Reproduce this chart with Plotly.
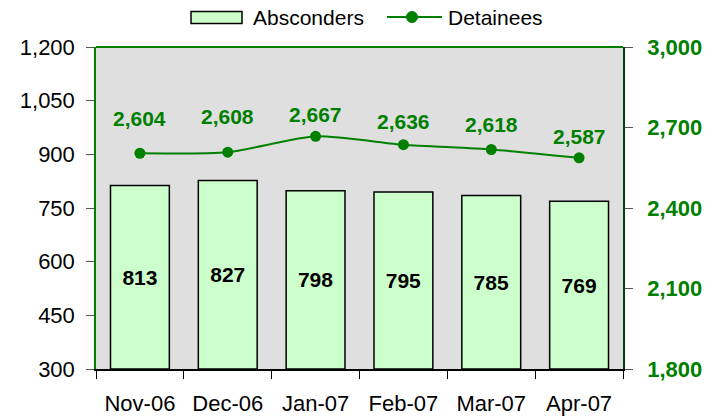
import plotly.graph_objects as go

months = ["Nov-06", "Dec-06", "Jan-07", "Feb-07", "Mar-07", "Apr-07"]
absconders = [813, 827, 798, 795, 785, 769]
detainees = [2604, 2608, 2667, 2636, 2618, 2587]
left_ticks = [300, 450, 600, 750, 900, 1050, 1200]
right_ticks = [1800, 2100, 2400, 2700, 3000]

# style: vertical offsets (px) of the detainee value labels above their markers
label_shift = [35, 36, 22, 23, 25, 21]

GREEN = "#008000"
BAR_FILL = "#ccffcc"
FONT = "Liberation Sans, Arial, sans-serif"
BASE = 300

W, H = 719, 420
ML, MR, MT, MB = 96, 96, 47, 51
PW, PH = W - ML - MR, H - MT - MB


def px(x):  # page pixel x -> paper x
    return (x - ML) / PW


def py(y):  # page pixel y -> paper y
    return (H - MB - y) / PH


fig = go.Figure()
fig.add_trace(go.Bar(
    x=months, y=[v - BASE for v in absconders], base=BASE,
    name="Absconders",
    marker=dict(color=BAR_FILL, line=dict(color="black", width=1.5)),
    width=0.67,
    text=[f"{v:,}" for v in absconders], textposition="inside",
    insidetextanchor="middle",
    textfont=dict(family=FONT, size=21, color="black", weight="bold"),
    hovertext=[str(v) for v in absconders], hoverinfo="text",
))
fig.add_trace(go.Scatter(
    x=months, y=detainees, name="Detainees", yaxis="y2",
    mode="lines+markers",
    line=dict(color=GREEN, width=2, shape="spline", smoothing=0.6),
    marker=dict(color=GREEN, size=11),
))
for m, v, s in zip(months, detainees, label_shift):
    fig.add_annotation(x=m, y=v, yref="y2", text=f"<b>{v:,}</b>",
                       showarrow=False, yshift=s,
                       font=dict(family=FONT, size=21, color=GREEN))

# custom legend (drawn to match the reference's wide swatch)
ly = 17.5
fig.add_shape(type="rect", xref="paper", yref="paper",
              x0=px(191), x1=px(242), y0=py(23.5), y1=py(11.5),
              fillcolor=BAR_FILL, line=dict(color="black", width=1.5))
fig.add_annotation(xref="paper", yref="paper", x=px(251), y=py(ly),
                   xanchor="left", yanchor="middle", showarrow=False,
                   text="Absconders", font=dict(family=FONT, size=21, color="black"))
fig.add_shape(type="line", xref="paper", yref="paper",
              x0=px(387), x1=px(442), y0=py(17), y1=py(17),
              line=dict(color=GREEN, width=2))
fig.add_shape(type="circle", xref="paper", yref="paper",
              x0=px(412 - 5.5), x1=px(412 + 5.5), y0=py(17 + 5.5), y1=py(17 - 5.5),
              fillcolor=GREEN, line=dict(color=GREEN, width=1))
fig.add_annotation(xref="paper", yref="paper", x=px(446), y=py(ly),
                   xanchor="left", yanchor="middle", showarrow=False,
                   text="Detainees", font=dict(family=FONT, size=21, color="black"))

fig.update_layout(
    width=W, height=H,
    margin=dict(l=ML, r=MR, t=MT, b=MB, autoexpand=False),
    paper_bgcolor="white", plot_bgcolor="#dfdfdf",
    font=dict(family=FONT, color="black"),
    showlegend=False,
    xaxis=dict(tickson="boundaries", ticks="outside", ticklen=8, tickcolor="black",
               showline=True, linecolor="black", linewidth=1.5,
               showgrid=False, tickfont=dict(size=22, color="black"),
               ticklabelstandoff=14),
    yaxis=dict(range=[300, 1200], tickvals=left_ticks, tickformat=",",
               ticks="outside", ticklen=8, tickcolor="#555555",
               showline=True, linecolor=GREEN, linewidth=1.5, showgrid=False,
               zeroline=False, tickfont=dict(size=22, color="black"),
               ticklabelstandoff=7),
    yaxis2=dict(range=[1800, 3000], tickvals=right_ticks, tickformat=",",
                overlaying="y", side="right",
                ticks="outside", ticklen=8, tickcolor="#555555",
                showline=True, linecolor="#004000", linewidth=1.5, showgrid=False,
                zeroline=False, tickfont=dict(size=22, color=GREEN, weight="bold"),
                ticklabelstandoff=10),
)
fig.add_shape(type="line", xref="paper", yref="paper", x0=0, x1=1, y0=1, y1=1,
              line=dict(color=GREEN, width=2))
fig.write_html("out.html", config={"displayModeBar": False},
               post_script="document.body.style.margin='0';")
